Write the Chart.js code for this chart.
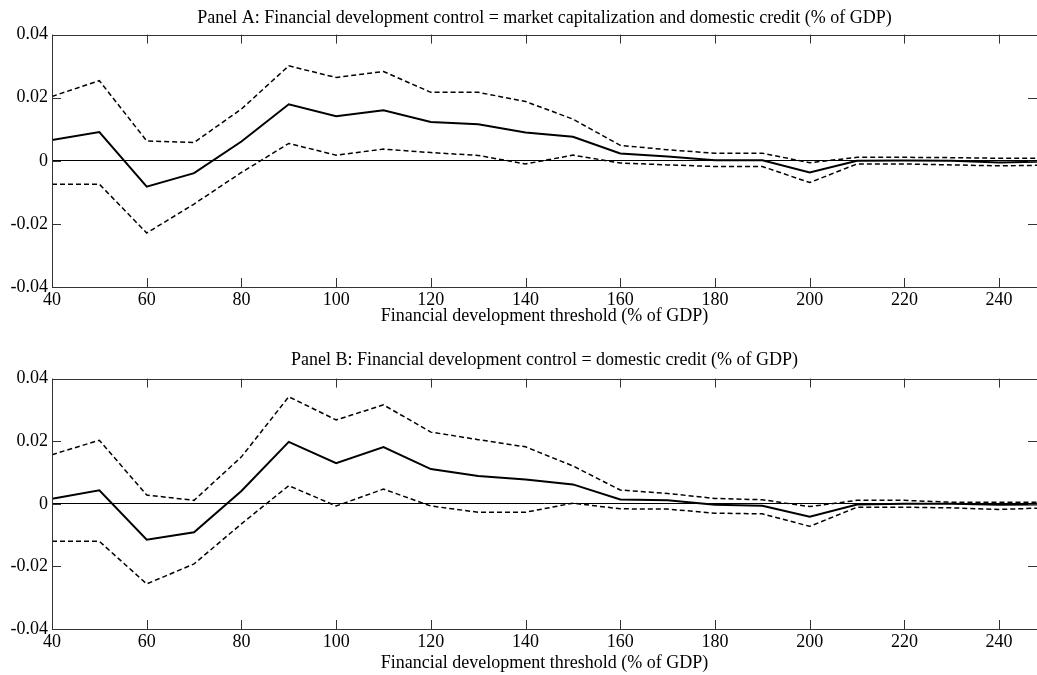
<!DOCTYPE html>
<html>
<head>
<meta charset="utf-8">
<script src="https://cdn.jsdelivr.net/npm/chart.js@4.4.0/dist/chart.umd.min.js"></script>
<style>
  body { margin: 0; background: #fff; overflow: hidden; }
  #wrapA { position: absolute; left: 0; top: 0; }
  #wrapB { position: absolute; left: 0; top: 337px; }
</style>
</head>
<body>
<div id="wrapA"><canvas id="chartA" width="1037" height="337"></canvas></div>
<div id="wrapB"><canvas id="chartB" width="1037" height="338"></canvas></div>
<script>
// thresholds (% of GDP)
var thresholds = [40, 50, 60, 70, 80, 90, 100, 110, 120, 130, 140, 150, 160, 170, 180, 190, 200, 210, 220, 230, 240, 250];

// Panel A
var estA  = [0.0066, 0.0091, -0.0082, -0.0039, 0.0061, 0.0179, 0.0141, 0.0160, 0.0123, 0.0116, 0.0090, 0.0076, 0.0023, 0.0014, 0.0002, 0.0002, -0.0037, 0.0000, 0.0001, 0.0000, -0.0005, -0.0003];
var upperA = [0.0204, 0.0254, 0.0063, 0.0058, 0.0164, 0.0301, 0.0264, 0.0283, 0.0217, 0.0217, 0.0188, 0.0132, 0.0049, 0.0035, 0.0024, 0.0024, -0.0006, 0.0011, 0.0011, 0.0010, 0.0008, 0.0008];
var lowerA = [-0.0074, -0.0074, -0.0229, -0.0137, -0.0037, 0.0055, 0.0018, 0.0037, 0.0026, 0.0017, -0.0010, 0.0018, -0.0007, -0.0013, -0.0018, -0.0018, -0.0069, -0.0010, -0.0010, -0.0013, -0.0016, -0.0014];

// Panel B
var estB  = [0.0016, 0.0043, -0.0115, -0.0091, 0.0041, 0.0198, 0.0130, 0.0181, 0.0111, 0.0089, 0.0078, 0.0062, 0.0014, 0.0011, -0.0003, -0.0006, -0.0041, -0.0002, 0.0000, 0.0000, -0.0003, -0.0002];
var upperB = [0.0157, 0.0203, 0.0028, 0.0011, 0.0150, 0.0342, 0.0268, 0.0316, 0.0229, 0.0205, 0.0182, 0.0121, 0.0044, 0.0033, 0.0017, 0.0013, -0.0009, 0.0011, 0.0011, 0.0005, 0.0005, 0.0005];
var lowerB = [-0.0120, -0.0120, -0.0256, -0.0192, -0.0064, 0.0058, -0.0007, 0.0047, -0.0007, -0.0027, -0.0027, 0.0002, -0.0016, -0.0017, -0.0030, -0.0032, -0.0072, -0.0011, -0.0011, -0.0013, -0.0018, -0.0013];

var xTicks = [40, 60, 80, 100, 120, 140, 160, 180, 200, 220, 240];
var yTicks = [-0.04, -0.02, 0, 0.02, 0.04];

var titleA = 'Panel A: Financial development control = market capitalization and domestic credit (% of GDP)';
var titleB = 'Panel B: Financial development control = domestic credit (% of GDP)';
var xTitle = 'Financial development threshold (% of GDP)';

var serif = '"Liberation Serif", "Times New Roman", serif';

function points(vals) {
    var out = [];
    for (var i in thresholds) {
        out.push({ x: thresholds[i], y: vals[i] });
    }
    return out;
}

// frame with inward tick marks, matlab style
var framePlugin = {
    id: 'frame',
    afterDraw: function (chart) {
        var ctx = chart.ctx;
        var a = chart.chartArea;
        var xs = chart.scales.x;
        var ys = chart.scales.y;
        var len = 9;
        ctx.save();
        ctx.strokeStyle = '#333';
        ctx.lineWidth = 1;
        ctx.beginPath();
        ctx.rect(Math.round(a.left) + 0.5, Math.round(a.top) + 0.5, Math.round(a.right - a.left), Math.round(a.bottom - a.top));
        xs.ticks.forEach(function (t) {
            var px = Math.round(xs.getPixelForValue(t.value)) + 0.5;
            ctx.moveTo(px, a.bottom);
            ctx.lineTo(px, a.bottom - len);
            ctx.moveTo(px, a.top);
            ctx.lineTo(px, a.top + len);
        });
        ys.ticks.forEach(function (t) {
            var py = Math.round(ys.getPixelForValue(t.value)) + 0.5;
            ctx.moveTo(a.left, py);
            ctx.lineTo(a.left + len, py);
            ctx.moveTo(a.right, py);
            ctx.lineTo(a.right - len, py);
        });
        ctx.stroke();
        ctx.restore();
    }
};

function makePanel(id, title, est, upper, lower, lay) {
    return new Chart(document.getElementById(id), {
        type: 'line',
        data: {
            datasets: [
                { data: points(upper), borderColor: '#000', borderWidth: 1.5, borderDash: [5, 3], pointRadius: 0, tension: 0 },
                { data: points(est), borderColor: '#000', borderWidth: 2, pointRadius: 0, tension: 0 },
                { data: points(lower), borderColor: '#000', borderWidth: 1.5, borderDash: [5, 3], pointRadius: 0, tension: 0 }
            ]
        },
        options: {
            responsive: false,
            animation: false,
            layout: { padding: { left: 0, right: 0, top: 0, bottom: lay.padBottom } },
            plugins: {
                legend: { display: false },
                tooltip: { enabled: false },
                title: {
                    display: true,
                    fullSize: false,
                    text: title,
                    color: '#000',
                    font: { family: serif, size: 18, weight: 'normal' },
                    padding: { top: lay.titleTop, bottom: lay.titleBottom }
                }
            },
            scales: {
                x: {
                    type: 'linear',
                    min: 40,
                    max: 248,
                    afterBuildTicks: function (scale) {
                        scale.ticks = xTicks.map(function (v) { return { value: v }; });
                    },
                    afterFit: function (scale) { scale.height = lay.xHeight; },
                    grid: { display: false, drawTicks: false },
                    border: { display: false },
                    ticks: {
                        color: '#000',
                        padding: 2,
                        maxRotation: 0,
                        font: { family: serif, size: 18 }
                    },
                    title: {
                        display: true,
                        text: xTitle,
                        color: '#000',
                        padding: 0,
                        font: { family: serif, size: 18 }
                    }
                },
                y: {
                    min: -0.04,
                    max: 0.04,
                    afterBuildTicks: function (scale) {
                        scale.ticks = yTicks.map(function (v) { return { value: v }; });
                    },
                    afterFit: function (scale) { scale.width = 52; },
                    grid: {
                        drawTicks: false,
                        color: function (c) { return c.tick && c.tick.value === 0 ? '#000' : 'rgba(0,0,0,0)'; },
                        lineWidth: 1
                    },
                    border: { display: false },
                    ticks: {
                        color: '#000',
                        padding: 4,
                        font: { family: serif, size: 18 },
                        callback: function (v) { return v === 0 ? '0' : String(Math.round(v * 100) / 100); }
                    }
                }
            }
        },
        plugins: [framePlugin]
    });
}

makePanel('chartA', titleA, estA, upperA, lowerA, { titleTop: 7, titleBottom: 6, xHeight: 40, padBottom: 10 });
makePanel('chartB', titleB, estB, upperB, lowerB, { titleTop: 12, titleBottom: 8, xHeight: 45, padBottom: 1 });
</script>
</body>
</html>
